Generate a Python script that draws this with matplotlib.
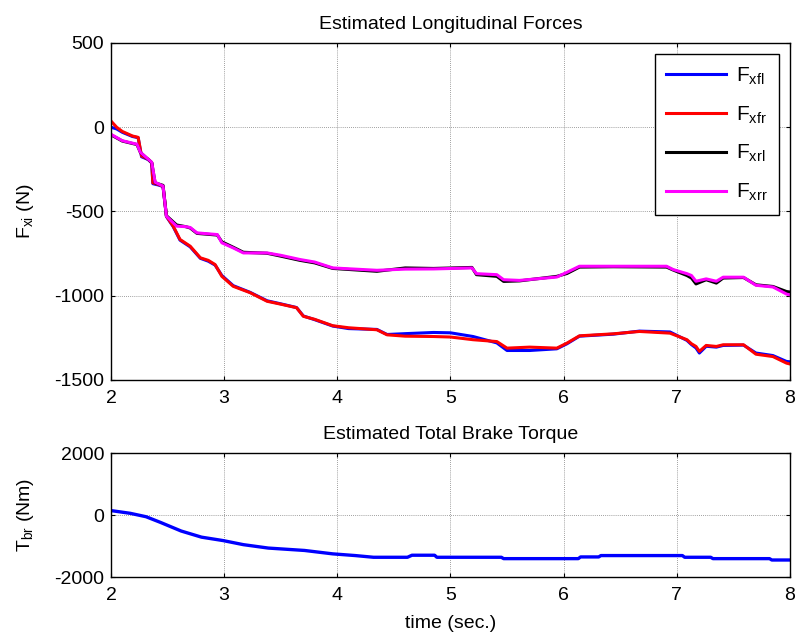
import matplotlib.pyplot as plt

plt.rcParams['font.family'] = ['Liberation Sans', 'DejaVu Sans']
plt.rcParams['axes.unicode_minus'] = False

# front wheel forces
t_front = [2.0, 2.05, 2.1, 2.19, 2.24, 2.27, 2.33, 2.36, 2.37, 2.42, 2.46, 2.49, 2.55, 2.61, 2.70,
           2.79, 2.86, 2.92, 2.98, 3.08, 3.23, 3.38, 3.5, 3.64, 3.70, 3.80, 3.96, 4.1, 4.35, 4.44,
           4.6, 4.85, 5.0, 5.20, 5.41, 5.50, 5.7, 5.94, 6.03, 6.14, 6.44, 6.67, 6.94, 7.09, 7.13,
           7.17, 7.20, 7.26, 7.35, 7.41, 7.59, 7.70, 7.85, 7.97, 8.0]
F_xfr = [37, 0, -25, -52, -60, -170, -190, -210, -330, -340, -350, -528, -587, -666, -706,
         -775, -790, -815, -885, -944, -982, -1033, -1050, -1071, -1122, -1140, -1178, -1190, -1202, -1232,
         -1240, -1242, -1245, -1261, -1272, -1311, -1305, -1311, -1281, -1238, -1226, -1212, -1222, -1261, -1285,
         -1301, -1330, -1295, -1301, -1291, -1291, -1347, -1361, -1400, -1405]
F_xfl = [0, -10, -30, -55, -62, -175, -192, -212, -335, -343, -352, -530, -590, -670, -710,
         -778, -795, -818, -880, -940, -980, -1030, -1048, -1070, -1120, -1142, -1180, -1195, -1200, -1230,
         -1225, -1218, -1220, -1242, -1280, -1325, -1325, -1315, -1285, -1240, -1228, -1210, -1215, -1265, -1290,
         -1310, -1340, -1300, -1305, -1295, -1293, -1340, -1355, -1390, -1392]

# rear wheel forces
t_rear = [2.0, 2.1, 2.23, 2.26, 2.36, 2.39, 2.46, 2.49, 2.58, 2.66, 2.70, 2.76, 2.94, 2.98, 3.08,
          3.17, 3.38, 3.50, 3.67, 3.80, 3.96, 4.35, 4.6, 4.85, 5.19, 5.23, 5.41, 5.47, 5.61, 5.94,
          6.03, 6.14, 6.44, 6.91, 6.97, 7.09, 7.13, 7.17, 7.26, 7.35, 7.41, 7.59, 7.70, 7.85, 7.97, 8.0]
F_xrr = [-42, -80, -101, -149, -208, -327, -349, -528, -587, -590, -595, -627, -637, -686, -716,
         -746, -746, -760, -785, -800, -835, -849, -842, -841, -835, -869, -875, -905, -909, -889,
         -861, -825, -825, -825, -845, -869, -880, -914, -900, -914, -890, -890, -938, -948, -990, -995]
F_xrl = [-45, -82, -103, -150, -210, -330, -345, -525, -580, -590, -598, -630, -640, -680, -712,
         -742, -748, -765, -790, -805, -838, -855, -835, -838, -832, -875, -885, -915, -912, -885,
         -868, -830, -828, -830, -848, -880, -895, -930, -905, -925, -895, -892, -935, -945, -975, -978]

# total brake torque
t_tq = [2.0, 2.17, 2.31, 2.44, 2.62, 2.80, 2.99, 3.17, 3.39, 3.71, 3.96, 4.16, 4.32, 4.62, 4.66,
        4.86, 4.88, 5.45, 5.47, 6.13, 6.15, 6.31, 6.33, 7.05, 7.07, 7.30, 7.32, 7.82, 7.84, 8.0]
T_br = [143, 55, -55, -242, -516, -714, -824, -956, -1066, -1143, -1253, -1308, -1363, -1363, -1297,
        -1297, -1363, -1363, -1407, -1407, -1352, -1352, -1308, -1308, -1363, -1363, -1407, -1407, -1451, -1451]

FS = 14

fig = plt.figure(figsize=(7.95, 6.35), dpi=100)
ax1 = fig.add_axes([0.1396, 0.4016, 0.854, 0.5307])
ax2 = fig.add_axes([0.1396, 0.0913, 0.854, 0.1953])

ax1.plot(t_front, F_xfl, color='blue', lw=2.2, label=r'$\mathregular{F_{xfl}}$')
ax1.plot(t_front, F_xfr, color='red', lw=2.2, label=r'$\mathregular{F_{xfr}}$')
ax1.plot(t_rear, F_xrl, color='black', lw=2.2, label=r'$\mathregular{F_{xrl}}$')
ax1.plot(t_rear, F_xrr, color='magenta', lw=2.2, label=r'$\mathregular{F_{xrr}}$')
ax1.set_xlim(2, 8)
ax1.set_ylim(-1500, 500)
ax1.set_yticks([-1500, -1000, -500, 0, 500])
ax1.set_title('Estimated Longitudinal Forces', fontsize=FS, pad=10)
ax1.set_ylabel(r'$\mathregular{F_{xi}}$ (N)', fontsize=FS, labelpad=13)
leg = ax1.legend(loc='upper right', fontsize=15, handlelength=2.9, handletextpad=0.45,
                 fancybox=False, edgecolor='black', framealpha=1, borderpad=0.55,
                 labelspacing=0.84, borderaxespad=0, bbox_to_anchor=(0.984, 0.967))
leg.get_frame().set_linewidth(1.0)

ax2.plot(t_tq, T_br, color='blue', lw=2.4)
ax2.set_xlim(2, 8)
ax2.set_ylim(-2000, 2000)
ax2.set_yticks([-2000, 0, 2000])
ax2.set_title('Estimated Total Brake Torque', fontsize=FS, pad=10)
ax2.set_ylabel(r'$\mathregular{T_{br}}$ (Nm)', fontsize=FS, labelpad=13)
ax2.set_xlabel('time (sec.)', fontsize=FS, labelpad=8)

for ax in (ax1, ax2):
    ax.grid(True, color='#808080', linestyle=(0, (1, 1.5)), linewidth=0.6)
    ax.tick_params(direction='in', top=True, right=True, labelsize=FS, length=3, pad=5)
    ax.tick_params(axis='x', pad=7)
    for s in ax.spines.values():
        s.set_linewidth(1.0)

plt.savefig('out.png', dpi=100)
